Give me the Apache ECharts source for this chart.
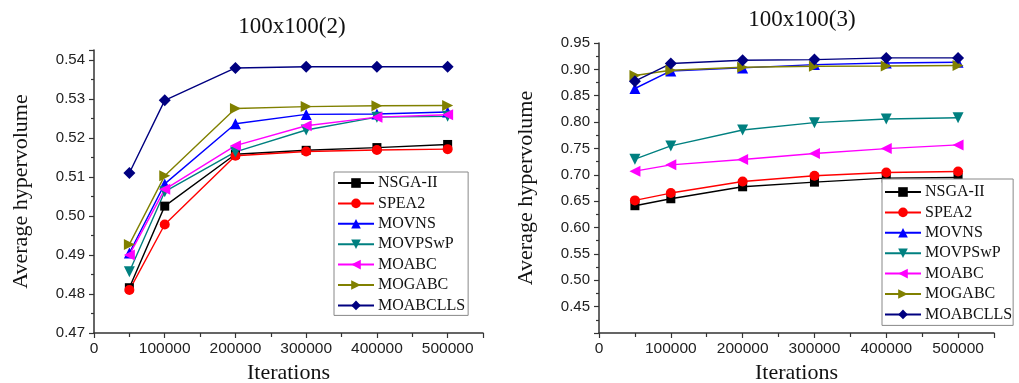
<!DOCTYPE html>
<html>
<head>
<meta charset="utf-8">
<script src="https://cdn.jsdelivr.net/npm/echarts@6/dist/echarts.min.js"></script>
<style>
  html, body { margin: 0; padding: 0; background: #fff; }
  #chart { width: 1019px; height: 383px; }
</style>
</head>
<body>
<div id="chart"></div>
<script>
// iterations on the x axis (same for both panels)
const iterations = [50000, 100000, 200000, 300000, 400000, 500000];
const algorithms = ['NSGA-II', 'SPEA2', 'MOVNS', 'MOVPSwP', 'MOABC', 'MOGABC', 'MOABCLLS'];

// 100x100(2)
const nsga2A    = [0.4816, 0.5025, 0.5158, 0.5168, 0.5175, 0.5183];
const spea2A    = [0.4810, 0.4978, 0.5154, 0.5165, 0.5169, 0.5171];
const movnsA    = [0.4905, 0.5082, 0.5236, 0.5260, 0.5261, 0.5266];
const movpswpA  = [0.4857, 0.5062, 0.5164, 0.5220, 0.5253, 0.5255];
const moabcA    = [0.4900, 0.5068, 0.5180, 0.5231, 0.5253, 0.5259];
const mogabcA   = [0.4927, 0.5103, 0.5275, 0.5280, 0.5282, 0.5283];
const moabcllsA = [0.5110, 0.5296, 0.5379, 0.5382, 0.5382, 0.5382];

// 100x100(3)
const nsga2B    = [0.6414, 0.6546, 0.6773, 0.6861, 0.6937, 0.6950];
const spea2B    = [0.6515, 0.6654, 0.6874, 0.6981, 0.7044, 0.7063];
const movnsB    = [0.8637, 0.8970, 0.9028, 0.9090, 0.9120, 0.9135];
const movpswpB  = [0.7296, 0.7548, 0.7850, 0.7989, 0.8058, 0.8083];
const moabcB    = [0.7069, 0.7189, 0.7290, 0.7403, 0.7497, 0.7567];
const mogabcB   = [0.8883, 0.8984, 0.9040, 0.9060, 0.9065, 0.9072];
const moabcllsB = [0.8776, 0.9110, 0.9173, 0.9185, 0.9217, 0.9217];

const seriesA = [nsga2A, spea2A, movnsA, movpswpA, moabcA, mogabcA, moabcllsA];
const seriesB = [nsga2B, spea2B, movnsB, movpswpB, moabcB, mogabcB, moabcllsB];

const colors  = ['#000000', '#ff0000', '#0000ff', '#008080', '#ff00ff', '#808000', '#000080'];
const symbols = ['rect', 'circle', 'triangle', 'triangle', 'triangle', 'triangle', 'diamond'];
const rotates = [0, 0, 0, 180, 90, -90, 0];
const sizes   = [9, 10, 11, 11, 11, 11, 12];

const serif = "'Liberation Serif', 'Times New Roman', serif";
const sans = "'Liberation Sans', Arial, sans-serif";

const chart = echarts.init(document.getElementById('chart'));

function xAxisFor(gridIndex, gap) {
  return {
    type: 'value',
    gridIndex: gridIndex,
    min: 0,
    max: 550000,
    interval: 100000,
    name: 'Iterations',
    nameLocation: 'middle',
    nameGap: gap,
    nameTextStyle: { fontFamily: serif, fontSize: 22, color: '#111' },
    axisLine: { show: true, lineStyle: { color: '#333', width: 1.5 } },
    axisTick: { show: true, length: 5, lineStyle: { color: '#333', width: 1.2 } },
    minorTick: { show: true, splitNumber: 2, length: 4, lineStyle: { color: '#333', width: 1.2 } },
    splitLine: { show: false },
    axisLabel: {
      margin: 8,
      fontFamily: sans,
      fontSize: 15.5,
      color: '#222',
      formatter: (v) => (v > 500000 ? '' : String(v)),
    },
  };
}

function yAxisFor(gridIndex, min, max, step, hideBelow) {
  return {
    type: 'value',
    gridIndex: gridIndex,
    min: min,
    max: max,
    interval: step,
    name: 'Average hypervolume',
    nameLocation: 'middle',
    nameGap: 62,
    nameTextStyle: { fontFamily: serif, fontSize: 22, color: '#111' },
    axisLine: { show: true, lineStyle: { color: '#333', width: 1.5 } },
    axisTick: { show: true, length: 5, lineStyle: { color: '#333', width: 1.2 } },
    minorTick: { show: true, splitNumber: 2, length: 3, lineStyle: { color: '#333', width: 1.2 } },
    splitLine: { show: false },
    axisLabel: {
      margin: 9,
      fontFamily: sans,
      fontSize: 15,
      color: '#222',
      formatter: (v) => {
        const k = v / step;
        if (Math.abs(k - Math.round(k)) > 1e-6) return '';
        if (v < hideBelow) return '';
        return v.toFixed(2);
      },
    },
  };
}

function makeSeries(list, axisIndex) {
  return list.map((vals, i) => ({
    name: algorithms[i],
    type: 'line',
    xAxisIndex: axisIndex,
    yAxisIndex: axisIndex,
    data: iterations.map((it, j) => [it, vals[j]]),
    symbol: symbols[i],
    symbolRotate: rotates[i],
    symbolSize: sizes[i],
    showAllSymbol: true,
    color: colors[i],
    lineStyle: { color: colors[i], width: 1.4 },
    itemStyle: { color: colors[i] },
    emphasis: { disabled: true },
  }));
}

function legendAt(left, top, padding) {
  return {
    data: algorithms,
    orient: 'vertical',
    left: left,
    top: top,
    padding: padding,
    itemWidth: 36,
    itemHeight: 12,
    itemGap: 4.4,
    backgroundColor: '#fff',
    borderColor: '#888',
    borderWidth: 1,
    borderRadius: 0,
    selectedMode: false,
    textStyle: { fontFamily: serif, fontSize: 16, lineHeight: 16, color: '#111', padding: [0, 0, 0, -1] },
  };
}

const option = {
  animation: false,
  backgroundColor: '#fff',
  title: [
    {
      text: '100x100(2)',
      left: 287,
      top: 10,
      textAlign: 'center',
      textStyle: { fontFamily: serif, fontSize: 23, fontWeight: 'normal', color: '#111' },
    },
    {
      text: '100x100(3)',
      left: 797,
      top: 3,
      textAlign: 'center',
      textStyle: { fontFamily: serif, fontSize: 23, fontWeight: 'normal', color: '#111' },
    },
  ],
  grid: [
    { left: 94, top: 50, width: 389, height: 283, outerBoundsMode: 'none' },
    { left: 599, top: 43, width: 395, height: 290, outerBoundsMode: 'none' },
  ],
  xAxis: [xAxisFor(0, 21), xAxisFor(1, 21)],
  yAxis: [
    yAxisFor(0, 0.47, 0.5425, 0.01, 0),
    yAxisFor(1, 0.40, 0.95, 0.05, 0.42),
  ],
  legend: [
    legendAt(334, 172, [3, 3, 2, 3]),
    legendAt(882, 179, [5, 1, 3, 2]),
  ],
  series: [].concat(makeSeries(seriesA, 0), makeSeries(seriesB, 1)),
};

chart.setOption(option);

window.addEventListener('resize', () => chart.resize());
</script>
</body>
</html>
